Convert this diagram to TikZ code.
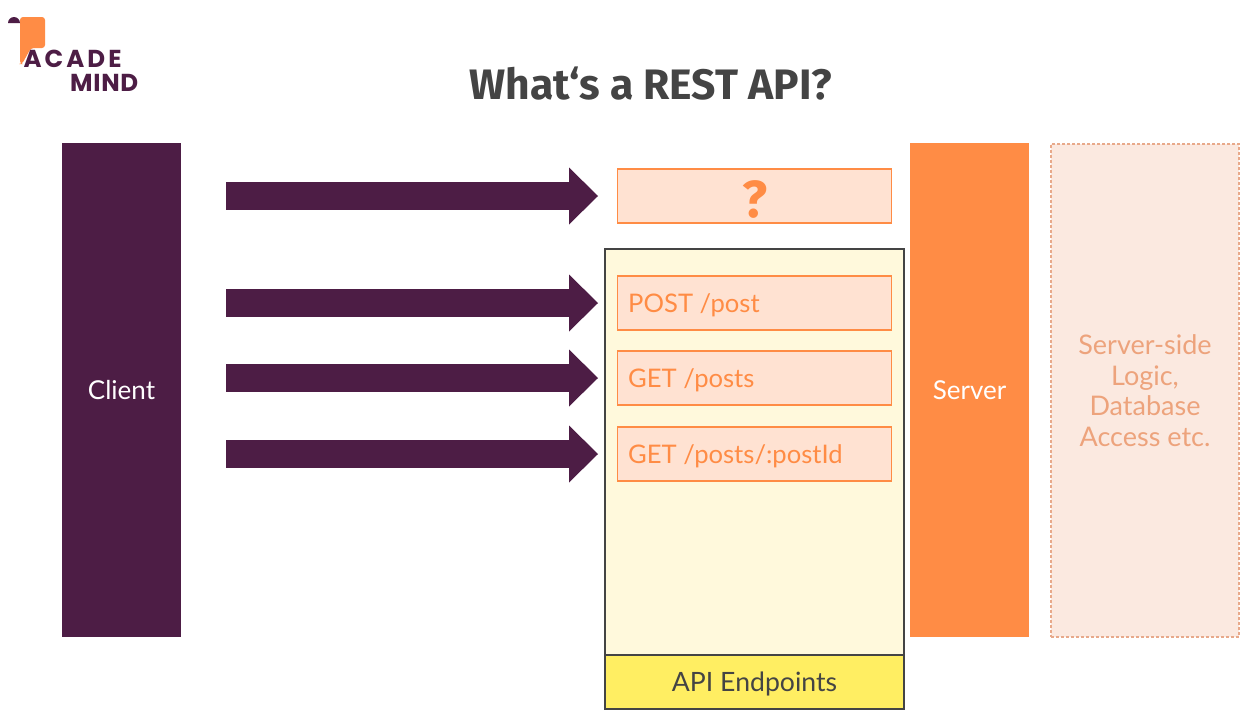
\documentclass[tikz,border=0pt]{standalone}
\usepackage{fontspec}
\usetikzlibrary{arrows.meta}
\setmainfont{Lato}
\newfontfamily\titlefont{Fira Sans}
\newfontfamily\logofont{Poppins}
\definecolor{plum}{HTML}{4D1D45}
\definecolor{orangeM}{HTML}{FF8C45}
\definecolor{peach}{HTML}{FFE2D2}
\definecolor{paleY}{HTML}{FFF9DC}
\definecolor{yellowM}{HTML}{FFEE62}
\definecolor{paleP}{HTML}{FBE9E0}
\definecolor{dashP}{HTML}{E8A98A}
\definecolor{inkG}{HTML}{444444}
\tikzset{
  px/.style={x=1pt,y=-1pt},
  solidbar/.style={anchor=north west,inner sep=0,outer sep=0,text=white,font=\fontsize{26}{30}\selectfont},
  epbox/.style={draw=orangeM,line width=1.2pt,fill=peach,anchor=north west,minimum width=274pt,minimum height=54pt,inner sep=0,outer sep=0},
  eplabel/.style={anchor=west,text=orangeM,inner sep=0,font=\fontsize{25.6}{30}\selectfont},
  bigarrow/.style={draw=plum,line width=28pt,-{Triangle[length=29pt,width=57pt,line width=0pt]}},
  logotext/.style={anchor=west,inner sep=0,text=plum,font=\logofont\bfseries\fontsize{24.5}{26}\selectfont},
}
\begin{document}
\begin{tikzpicture}[px]
\useasboundingbox (0,0) rectangle (1260,720);
\fill[white] (0,0) rectangle (1260,720);
% logo
\fill[orangeM,rounded corners=3pt] (20,17) -- (45,17) -- (45,48) -- (31,48) -- (22,64) -- (20,64) -- cycle;
\fill[plum] (8,23) arc[start angle=180,end angle=360,x radius=6,y radius=6] -- cycle;
\node[logotext] (logoa) at (23.5,59) {A\kern3pt C\kern3pt A\kern3pt D\kern3pt E};
\node[logotext] (logob) at (70,83) {M\kern0.7pt I\kern0.7pt N\kern0.7pt D};
% title
\node[text=inkG,inner sep=0,font=\titlefont\bfseries\fontsize{42.6}{46}\selectfont] (title) at (651,84) {What‘s a REST API?};
% columns
\node[solidbar,fill=plum,minimum width=119pt,minimum height=494pt] (client) at (62,143) {Client};
\node[solidbar,fill=orangeM,minimum width=119pt,minimum height=494pt] (server) at (910,143) {Server};
\node[anchor=north west,draw=dashP,dash pattern=on 3pt off 2pt,line width=1.2pt,fill=paleP,minimum width=188pt,minimum height=493pt,inner sep=0,outer sep=0,text=dashP!80!orangeM,align=center,font=\fontsize{27}{30.5}\selectfont] (logic) at (1051,144) {Server-side\\Logic,\\Database\\Access etc.};
% container
\node[anchor=north west,draw=inkG,line width=1.5pt,fill=paleY,minimum width=299pt,minimum height=406pt,inner sep=0,outer sep=0] (container) at (605,249) {};
\node[anchor=north west,draw=inkG,line width=1.5pt,fill=yellowM,minimum width=299pt,minimum height=54pt,inner sep=0,outer sep=0] (endpoints) at (605,655) {};
\node[inner sep=0,text=inkG,font=\fontsize{26.6}{30}\selectfont] (endlabel) at (754.5,684) {API Endpoints};
% endpoint boxes
\node[epbox] (q) at (617.5,169) {};
\node[inner sep=0,text=orangeM,font=\titlefont\bfseries\fontsize{52}{54}\selectfont] (qmark) at (754.5,199) {?};
\node[epbox] (post) at (617.5,276) {};
\node[epbox] (gets) at (617.5,351) {};
\node[epbox] (getid) at (617.5,427) {};
\node[eplabel] (lpost) at (628,305) {POST /post};
\node[eplabel] (lgets) at (628,380) {GET /posts};
\node[eplabel] (lgetid) at (628,456) {GET /posts/:postId};
% arrows
\coordinate (s1) at (226,196); \coordinate (e1) at (598,196);
\coordinate (s2) at (226,303); \coordinate (e2) at (598,303);
\coordinate (s3) at (226,378); \coordinate (e3) at (598,378);
\coordinate (s4) at (226,454); \coordinate (e4) at (598,454);
\draw[bigarrow] (s1) -- (e1);
\draw[bigarrow] (s2) -- (e2);
\draw[bigarrow] (s3) -- (e3);
\draw[bigarrow] (s4) -- (e4);
\end{tikzpicture}
\end{document}
